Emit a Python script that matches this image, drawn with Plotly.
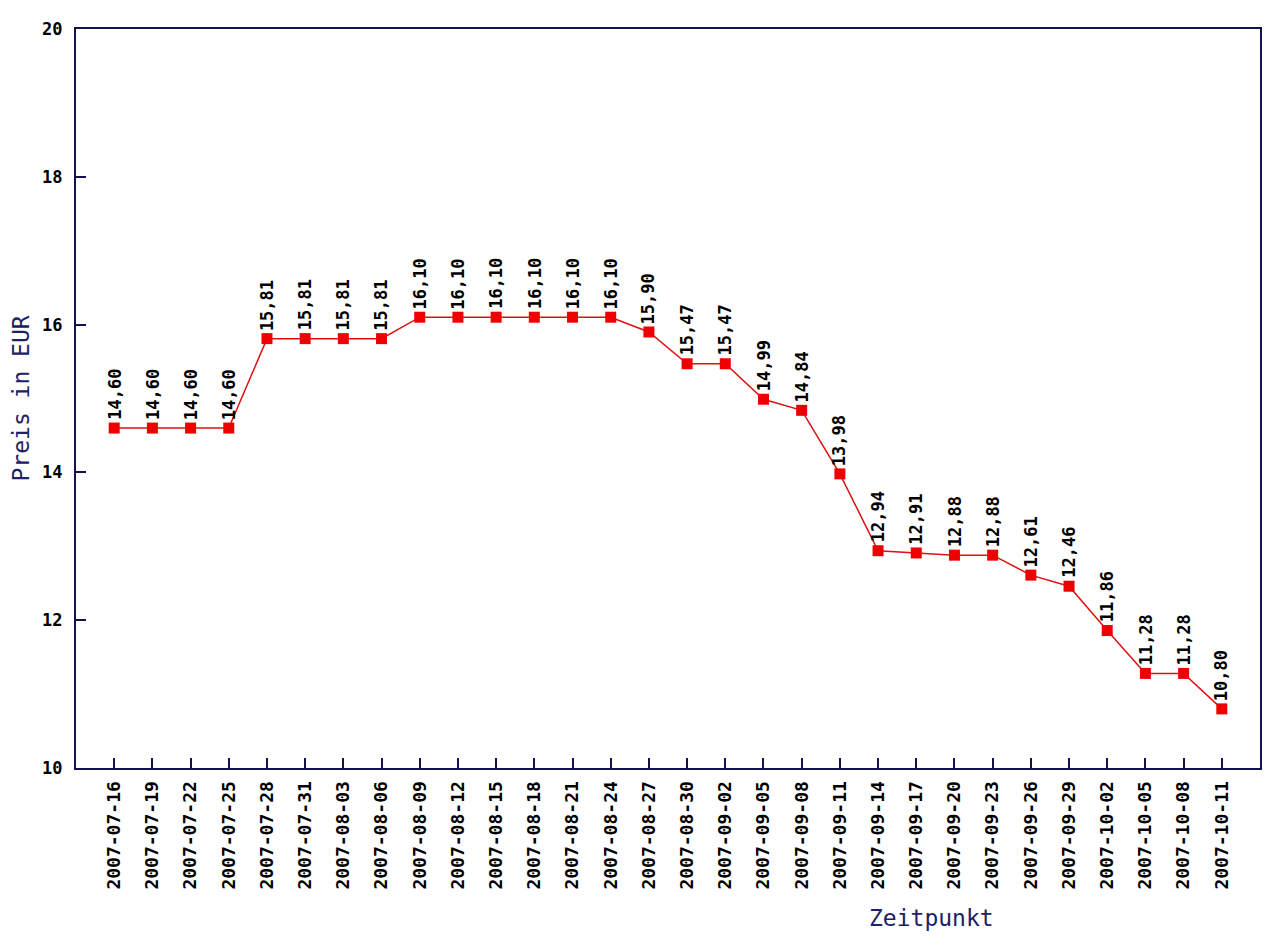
import plotly.graph_objects as go

dates = ["2007-07-16", "2007-07-19", "2007-07-22", "2007-07-25", "2007-07-28", "2007-07-31",
         "2007-08-03", "2007-08-06", "2007-08-09", "2007-08-12", "2007-08-15", "2007-08-18",
         "2007-08-21", "2007-08-24", "2007-08-27", "2007-08-30", "2007-09-02", "2007-09-05",
         "2007-09-08", "2007-09-11", "2007-09-14", "2007-09-17", "2007-09-20", "2007-09-23",
         "2007-09-26", "2007-09-29", "2007-10-02", "2007-10-05", "2007-10-08", "2007-10-11"]
prices = [14.60, 14.60, 14.60, 14.60, 15.81, 15.81, 15.81, 15.81, 16.10, 16.10,
          16.10, 16.10, 16.10, 16.10, 15.90, 15.47, 15.47, 14.99, 14.84, 13.98,
          12.94, 12.91, 12.88, 12.88, 12.61, 12.46, 11.86, 11.28, 11.28, 10.80]
y_ticks = [10, 12, 14, 16, 18, 20]

MONO = "DejaVu Sans Mono"
NAVY = "#12124e"
W, H = 1280, 946
L, R, T, B = 76, 20, 29, 178
pw, ph = W - L - R, H - T - B

fig = go.Figure()
fig.add_trace(go.Scatter(
    x=dates, y=prices, mode="lines+markers",
    line=dict(color="#dd1111", width=1.5),
    marker=dict(symbol="square", size=11, color="#ee0000"),
    showlegend=False, hoverinfo="skip",
))

annotations = []
for d, v in zip(dates, prices):
    annotations.append(dict(
        x=d, y=v, xref="x", yref="y", text=f"{v:.2f}".replace(".", ","),
        textangle=-90, showarrow=False, xanchor="center", yanchor="bottom",
        yshift=6, font=dict(family=MONO, size=17, color="#000000", weight="bold"),
    ))
annotations.append(dict(
    x=(20 - L) / pw, y=0.5, xref="paper", yref="paper", text="Preis in EUR",
    textangle=-90, showarrow=False, xanchor="center", yanchor="middle",
    font=dict(family=MONO, size=23, color="#202066"),
))
annotations.append(dict(
    x=(931 - L) / pw, y=-(918 - (H - B)) / ph, xref="paper", yref="paper", text="Zeitpunkt",
    showarrow=False, xanchor="center", yanchor="middle",
    font=dict(family=MONO, size=23, color="#202066"),
))

fig.update_layout(
    width=W, height=H,
    margin=dict(l=L, r=R, t=T, b=B, pad=0),
    paper_bgcolor="white", plot_bgcolor="white",
    annotations=annotations,
    xaxis=dict(
        type="category", range=[-1, len(dates)], showgrid=False, zeroline=False,
        showline=True, linecolor=NAVY, linewidth=2, mirror=True,
        ticks="inside", ticklen=10, tickcolor=NAVY, tickwidth=2,
        tickangle=-90, ticklabelstandoff=4,
        tickfont=dict(family=MONO, size=18, color="#000000", weight="bold"),
    ),
    yaxis=dict(
        range=[10, 20], tickvals=y_ticks, ticktext=[str(t) for t in y_ticks],
        showgrid=False, zeroline=False,
        showline=True, linecolor=NAVY, linewidth=2, mirror=True,
        ticks="inside", ticklen=10, tickcolor=NAVY, tickwidth=2,
        ticklabelstandoff=8,
        tickfont=dict(family=MONO, size=17, color="#000000", weight="bold"),
    ),
)

fig.write_html("out.html")
